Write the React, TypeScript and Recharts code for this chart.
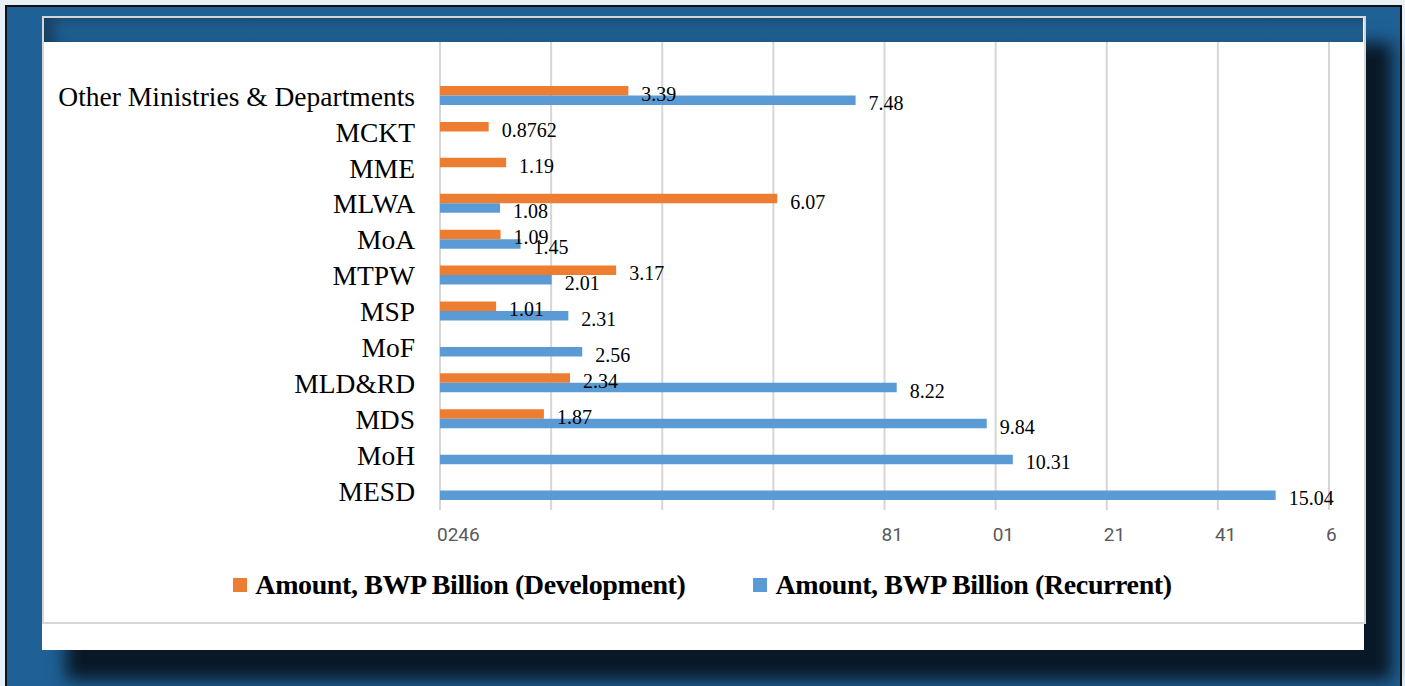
import { BarChart, Bar, XAxis, YAxis, CartesianGrid, Legend, LabelList } from 'recharts';

const categories = [
  'Other Ministries & Departments',
  'MCKT',
  'MME',
  'MLWA',
  'MoA',
  'MTPW',
  'MSP',
  'MoF',
  'MLD&RD',
  'MDS',
  'MoH',
  'MESD',
];
const development = [3.39, 0.8762, 1.19, 6.07, 1.09, 3.17, 1.01, null, 2.34, 1.87, null, null];
const recurrent = [7.48, null, null, 1.08, 1.45, 2.01, 2.31, 2.56, 8.22, 9.84, 10.31, 15.04];
const xTicks = [0, 2, 4, 6, 8, 10, 12, 14, 16];
const xTickLabels = ['0246', '', '', '', '81', '01', '21', '41', '6'];

const DEV = 'Amount, BWP Billion (Development)';
const REC = 'Amount, BWP Billion (Recurrent)';
const ORANGE = '#ed7d31';
const BLUE = '#5b9bd5';
const SERIF = "'Liberation Serif', 'Times New Roman', serif";

const data = categories.map((name, i) => ({ name, dev: development[i], rec: recurrent[i] }));

const XTick = (props: any) => {
  const { x, y, payload } = props;
  const label = xTickLabels[xTicks.indexOf(payload.value)] ?? '';
  return (
    <text x={x - 3} y={y} dy={23} textAnchor="start" fill="#595959" fontSize={19} fontFamily="Roboto, sans-serif">
      {label}
    </text>
  );
};

const ValueLabel = (props: any) => {
  const { x, y, width, height, value } = props;
  if (value == null) return null;
  return (
    <text x={x + width + 13} y={y + height / 2 + 3} dy="0.35em" fill="#000" fontSize={20} fontFamily={SERIF}>
      {String(value)}
    </text>
  );
};

const LegendContent = () => (
  <div style={{ display: 'flex', justifyContent: 'center', gap: 68, height: 36, alignItems: 'center' }}>
    {[
      { label: DEV, color: ORANGE },
      { label: REC, color: BLUE },
    ].map((item) => (
      <div key={item.label} style={{ display: 'flex', alignItems: 'center', gap: 8 }}>
        <span style={{ width: 14, height: 14, background: item.color, display: 'inline-block' }} />
        <span style={{ fontFamily: SERIF, fontWeight: 'bold', fontSize: 28, letterSpacing: '-0.4px', color: '#000' }}>
          {item.label}
        </span>
      </div>
    ))}
  </div>
);

export default function App() {
  return (
    <div style={{ position: 'absolute', left: 0, top: 0, width: 1405, height: 686, background: '#e9f1f8', overflow: 'hidden' }}>
      {/* outer blue frame */}
      <div
        style={{
          position: 'absolute',
          left: 5,
          top: 5,
          width: 1393,
          height: 690,
          background: '#1f6196',
          border: '2px solid #111',
        }}
      />
      {/* white panel with shadow */}
      <div
        style={{
          position: 'absolute',
          left: 42,
          top: 17,
          width: 1322,
          height: 633,
          background: '#fff',
          boxShadow: '26px 28px 16px 2px rgba(8,20,32,0.95)',
        }}
      />
      {/* bordered chart box */}
      <div
        style={{
          position: 'absolute',
          left: 42,
          top: 16,
          width: 1320,
          height: 604,
          border: '2px solid #d6d6d6',
        }}
      />
      {/* header bar */}
      <div
        style={{
          position: 'absolute',
          left: 44,
          top: 18,
          width: 1319,
          height: 24,
          background: 'linear-gradient(#21649a, #1d5a8a)',
          boxShadow: 'inset 18px 10px 14px -8px rgba(10,25,40,0.45)',
        }}
      />
      <div style={{ position: 'absolute', left: 0, top: 0 }}>
        <BarChart
          width={1405}
          height={686}
          data={data}
          layout="vertical"
          margin={{ top: 42, right: 76, left: 0, bottom: 110 }}
          barGap={0}
          barSize={9.5}
        >
          <CartesianGrid horizontal={false} stroke="#d6d6d6" strokeWidth={2} />
          <XAxis
            type="number"
            domain={[0, 16]}
            ticks={xTicks}
            axisLine={false}
            tickLine={false}
            height={30}
            tick={<XTick />}
            interval={0}
          />
          <YAxis
            type="category"
            dataKey="name"
            width={440}
            axisLine={false}
            tickLine={false}
            tickMargin={19}
            interval={0}
            padding={{ top: 36, bottom: 1 }}
            tick={{ fontSize: 27.5, fill: '#000', fontFamily: SERIF }}
          />
          <Legend
            verticalAlign="bottom"
            content={<LegendContent />}
            wrapperStyle={{ top: 567, left: 0, width: 1405 }}
          />
          <Bar dataKey="dev" name={DEV} fill={ORANGE} isAnimationActive={false}>
            <LabelList dataKey="dev" content={<ValueLabel />} />
          </Bar>
          <Bar dataKey="rec" name={REC} fill={BLUE} isAnimationActive={false}>
            <LabelList dataKey="rec" content={<ValueLabel />} />
          </Bar>
        </BarChart>
      </div>
    </div>
  );
}
